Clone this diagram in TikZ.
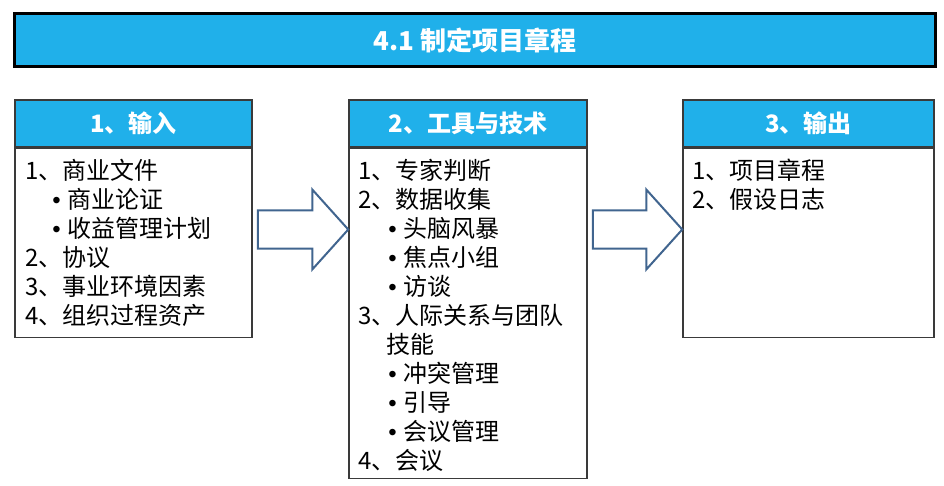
\documentclass[tikz,border=0pt]{standalone}
\usepackage{fontspec}
\setmainfont{Noto Sans CJK SC}
\newfontfamily\latinfont{Liberation Sans}
\usetikzlibrary{positioning,calc}
\definecolor{headblue}{RGB}{32,176,234}
\definecolor{boxgray}{RGB}{58,58,58}
\definecolor{arrowblue}{RGB}{65,101,143}
\tikzset{
  titlebar/.style={draw=black, line width=3pt, fill=headblue, text=white,
    font=\fontsize{26}{30}\selectfont\bfseries},
  headbox/.style={draw=boxgray, line width=1.5pt, fill=headblue, text=white,
    minimum height=47pt, font=\fontsize{24}{29}\selectfont\bfseries},
  bodybox/.style={draw=boxgray, line width=1.5pt, fill=white},
  itemtext/.style={align=left, inner sep=0pt, anchor=north west,
    font=\fontsize{24}{29}\selectfont},
  bigarrow/.style={draw=arrowblue, line width=2pt, fill=white, line join=miter}
}
\begin{document}
\begin{tikzpicture}[x=1pt, y=-1pt]
  \useasboundingbox (0,0) rectangle (944,486);

  \node[titlebar, minimum width=921pt, minimum height=53pt] (title) at (475,40.5) {4.1 制定项目章程};

  % the three columns
  \node[headbox, minimum width=237pt] (h1) at (133.5,123.5) {1、输入};
  \node[headbox, minimum width=238pt] (h2) at (468,123.5) {2、工具与技术};
  \node[headbox, minimum width=251pt] (h3) at (808.5,123.5) {3、输出};

  \node[bodybox, minimum width=237pt, minimum height=189pt, below=0pt of h1] (b1) {};
  \node[bodybox, minimum width=238pt, minimum height=330pt, below=0pt of h2] (b2) {};
  \node[bodybox, minimum width=251pt, minimum height=189pt, below=0pt of h3] (b3) {};

  \node[itemtext, below right=11pt and 11pt of h1.south west] (t1) {%
    1、商业文件\\
    \hspace*{27pt}{\latinfont •}\hspace{7pt}商业论证\\
    \hspace*{27pt}{\latinfont •}\hspace{7pt}收益管理计划\\
    2、协议\\
    3、事业环境因素\\
    4、组织过程资产};
  \node[itemtext, below right=11pt and 10pt of h2.south west] (t2) {%
    1、专家判断\\
    2、数据收集\\
    \hspace*{30pt}{\latinfont •}\hspace{7pt}头脑风暴\\
    \hspace*{30pt}{\latinfont •}\hspace{7pt}焦点小组\\
    \hspace*{30pt}{\latinfont •}\hspace{7pt}访谈\\
    3、人际关系与团队\\
    \hspace*{28pt}技能\\
    \hspace*{30pt}{\latinfont •}\hspace{7pt}冲突管理\\
    \hspace*{30pt}{\latinfont •}\hspace{7pt}引导\\
    \hspace*{30pt}{\latinfont •}\hspace{7pt}会议管理\\
    4、会议};
  \node[itemtext, below right=11pt and 10pt of h3.south west] (t3) {%
    1、项目章程\\
    2、假设日志};

  % block arrows between the columns
  \foreach \i/\j in {1/2, 2/3} {
    \coordinate (s\i) at ($(h\i.east)+(5,106)$);
    \coordinate (e\i) at (s\i -| h\j.west);
    \draw[bigarrow] ($(s\i)+(0,-19)$) -- ($(e\i)+(-36,-19)$) -- ($(e\i)+(-36,-40)$)
      -- (e\i) -- ($(e\i)+(-36,40)$) -- ($(e\i)+(-36,19)$) -- ($(s\i)+(0,19)$) -- cycle;
  }
\end{tikzpicture}
\end{document}
